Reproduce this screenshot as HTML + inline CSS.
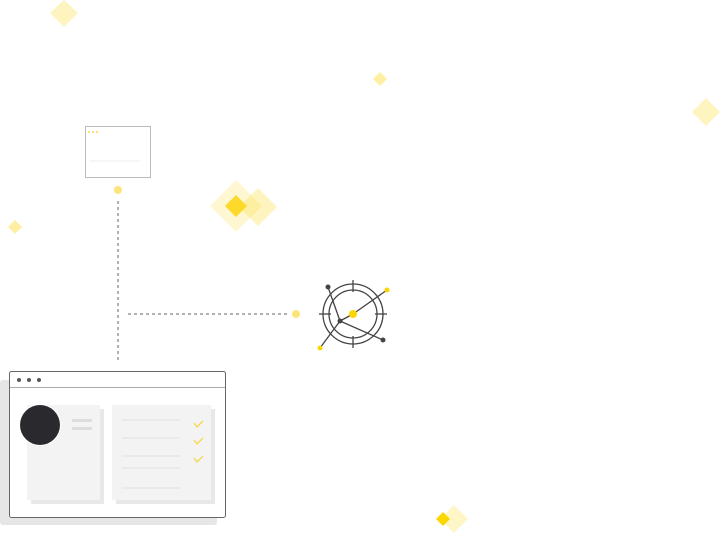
<!DOCTYPE html><html><head><style>body{margin:0;background:#fff}</style></head><body>
<svg width="720" height="533" viewBox="0 0 720 533" xmlns="http://www.w3.org/2000/svg">
<g fill="#fde047">
<polygon points="64,0 78,13 64,27 50,13" opacity="0.35"/>
<polygon points="380,72 387,79 380,86 373,79" opacity="0.5"/>
<polygon points="706,98 720,112 706,126 692,112" opacity="0.35"/>
<polygon points="15,220 22,227 15,234 8,227" opacity="0.5"/>
<polygon points="236,180 262,206 236,232 210,206" opacity="0.25"/>
<polygon points="258,188 277,207 258,226 239,207" opacity="0.35"/>
<polygon points="236,195 247,206 236,217 225,206" fill="#fcd92a"/>
<polygon points="454,505 468,519 454,533 440,519" opacity="0.3"/>
<polygon points="443,512 450,519 443,526 436,519" fill="#fcd600"/>
</g>
<rect x="85.5" y="126.5" width="65" height="51" fill="#fff" stroke="#bbb"/>
<circle cx="89" cy="132" r="1" fill="#f5d84a"/><circle cx="93" cy="132" r="1" fill="#f5d84a"/><circle cx="97" cy="132" r="1" fill="#f5d84a"/>
<line x1="90" y1="161" x2="140" y2="161" stroke="#eee"/>
<circle cx="118" cy="190" r="4" fill="#fde47a"/>
<line x1="118" y1="201" x2="118" y2="362" stroke="#666" stroke-dasharray="3,3"/>
<line x1="128" y1="314" x2="290" y2="314" stroke="#666" stroke-dasharray="3,3"/>
<circle cx="296" cy="314" r="4" fill="#fde47a"/>
<g stroke="#444" stroke-width="1.3" fill="none">
<circle cx="353" cy="314" r="30"/><circle cx="353" cy="314" r="24"/>
<line x1="353" y1="280" x2="353" y2="292"/><line x1="353" y1="336" x2="353" y2="348"/>
<line x1="319" y1="314" x2="331" y2="314"/><line x1="375" y1="314" x2="387" y2="314"/>
<line x1="328" y1="287" x2="340" y2="321"/><line x1="340" y1="321" x2="383" y2="340"/>
<line x1="340" y1="321" x2="320" y2="348"/><line x1="353" y1="314" x2="387" y2="290"/>
<line x1="340" y1="321" x2="353" y2="314"/>
</g>
<circle cx="328" cy="287" r="2.5" fill="#444"/><circle cx="383" cy="340" r="2.5" fill="#444"/>
<circle cx="340" cy="321" r="2.5" fill="#444"/>
<circle cx="353" cy="314" r="4" fill="#fcd600"/>
<circle cx="387" cy="290" r="2.5" fill="#fcd600"/><circle cx="320" cy="348" r="2.5" fill="#fcd600"/>
<rect x="0" y="380" width="217" height="145" rx="3" fill="#e6e6e6"/>
<rect x="9.5" y="371.5" width="216" height="146" rx="2" fill="#fff" stroke="#666"/>
<line x1="10" y1="387.5" x2="225" y2="387.5" stroke="#aaa"/>
<circle cx="19" cy="380" r="2" fill="#555"/><circle cx="29" cy="380" r="2" fill="#555"/><circle cx="39" cy="380" r="2" fill="#555"/>
<rect x="31" y="409" width="73" height="95" fill="#e8e8e8"/>
<rect x="27" y="405" width="73" height="95" fill="#f3f3f3"/>
<rect x="116" y="409" width="99" height="95" fill="#e8e8e8"/>
<rect x="112" y="405" width="99" height="95" fill="#f3f3f3"/>
<rect x="72" y="419" width="20" height="3" fill="#ddd"/><rect x="72" y="427" width="20" height="3" fill="#ddd"/>
<circle cx="40" cy="425" r="21" fill="#fff"/>
<circle cx="40" cy="425" r="20" fill="#2a2a2e"/>
<g stroke="#e2e2e2"><line x1="122" y1="420" x2="180" y2="420"/><line x1="122" y1="438" x2="180" y2="438"/><line x1="122" y1="456" x2="180" y2="456"/><line x1="122" y1="468" x2="180" y2="468"/><line x1="122" y1="488" x2="180" y2="488"/></g>
<g stroke="#f5d84a" stroke-width="1.3" fill="none"><polyline points="194,423 197,427 203,421"/><polyline points="194,440 197,444 203,438"/><polyline points="194,458 197,462 203,456"/></g>
</svg></body></html>
